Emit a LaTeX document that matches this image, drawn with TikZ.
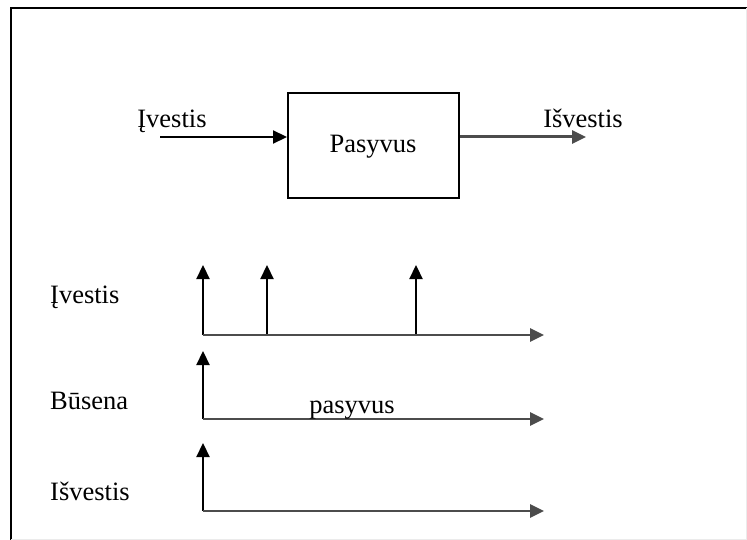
\documentclass[tikz,border=0pt]{standalone}
\usepackage{fontspec}
\setmainfont{Liberation Serif}
\usetikzlibrary{arrows.meta}
\begin{document}
\begin{tikzpicture}[x=1pt,y=-1pt,
  lbl/.style={font=\fontsize{26.5}{30}\selectfont, inner sep=0pt},
  ln/.style={line width=2.2pt},
  arr/.style={ln, -{Triangle[length=14pt,width=13pt]}},
  gr/.style={draw=black!70, fill=black}]
\useasboundingbox (0,0) rectangle (747,540);
\fill[white] (0,0) rectangle (747,540);
% frame
\draw[line width=2.4pt] (11,540) -- (11,8) -- (747,8);
\draw[black!8, line width=1pt] (746,8) -- (746,539) -- (11,539);
% block
\node[draw, line width=2pt, minimum width=171pt, minimum height=105pt, inner sep=0pt] (box) at (373.5,145.5) {};
\node[lbl, anchor=base] (pas) at (373,153) {Pasyvus};
\coordinate (inS) at (160,137);
\coordinate (outE) at (586,137);
\draw[arr] (inS) -- (inS -| box.west);
\draw[arr, gr, line width=3pt] (box.east |- outE) -- (outE);
\node[lbl, anchor=base] (inL) at (172,128) {Įvestis};
\node[lbl, anchor=base] (outL) at (583,128) {Išvestis};
% timeline 1
\coordinate (o1) at (203,335);
\coordinate (y1) at (203,265);
\coordinate (x1) at (544,335);
\coordinate (b1) at (267,335);
\coordinate (c1) at (267,265);
\coordinate (b2) at (416,335);
\coordinate (c2) at (416,265);
\draw[arr] (o1) -- (y1);
\draw[arr] (b1) -- (c1);
\draw[arr] (b2) -- (c2);
\draw[arr, gr, line width=2.6pt] (o1) -- (x1);
\node[lbl, anchor=base west] (l1) at (50,303.5) {Įvestis};
% timeline 2
\coordinate (o2) at (203,419);
\coordinate (y2) at (203,351);
\coordinate (x2) at (544,419);
\draw[arr] (o2) -- (y2);
\draw[arr, gr, line width=2.6pt] (o2) -- (x2);
\node[lbl, anchor=base west] (l2) at (50,409.5) {Būsena};
\node[lbl, anchor=base] (p2) at (352,413) {pasyvus};
% timeline 3
\coordinate (o3) at (203,511);
\coordinate (y3) at (203,443);
\coordinate (x3) at (544,511);
\draw[arr] (o3) -- (y3);
\draw[arr, gr, line width=2.6pt] (o3) -- (x3);
\node[lbl, anchor=base west] (l3) at (50,500.5) {Išvestis};
\end{tikzpicture}
\end{document}
